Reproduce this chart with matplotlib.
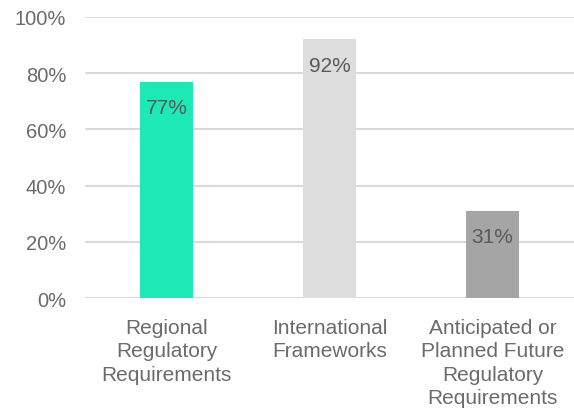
import matplotlib.pyplot as plt
from matplotlib.ticker import PercentFormatter

plt.rcParams['font.family'] = ['Liberation Sans', 'DejaVu Sans']

categories = ["Regional\nRegulatory\nRequirements",
              "International\nFrameworks",
              "Anticipated or\nPlanned Future\nRegulatory\nRequirements"]
values = [77, 92, 31]
colors = ['#1DE9B6', '#DDDDDD', '#A5A5A5']
labels = ["77%", "92%", "31%"]

fig = plt.figure(figsize=(5.74, 4.10), dpi=100)
ax = fig.add_axes([0.148, 0.2707, 0.852, 0.6855])

x = range(len(categories))
bars = ax.bar(x, values, width=0.32, color=colors, zorder=2)
for bar, lab in zip(bars, labels):
    ax.annotate(lab, (bar.get_x() + bar.get_width() / 2, bar.get_height()),
                xytext=(0, -26), textcoords='offset pixels',
                ha='center', va='center', fontsize=15, color='#595959')

ax.set_xlim(-0.5, 2.5)
ax.set_ylim(0, 100)
ax.set_yticks(range(0, 101, 20))
ax.yaxis.set_major_formatter(PercentFormatter(decimals=0))
ax.set_xticks(list(x))
ax.set_xticklabels(categories, linespacing=1.28)
ax.tick_params(axis='y', length=0, pad=13.5, labelsize=14.5, labelcolor='#6b6b6b')
ax.tick_params(axis='x', length=0, pad=14.5, labelsize=15, labelcolor='#6b6b6b')
ax.grid(axis='y', color='#D9D9D9', linewidth=1.5, zorder=0)
for s in ax.spines.values():
    s.set_visible(False)

fig.savefig("out.png", dpi=100)
